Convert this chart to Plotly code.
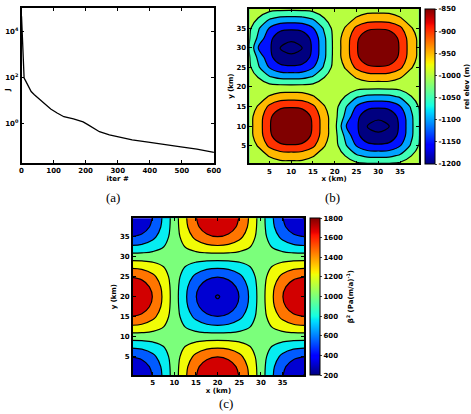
import numpy as np
import plotly.graph_objects as go

W, H = 471, 414

# ---------------- data ----------------
# (a) cost function vs iteration
iters = [0, 8, 12, 20, 30, 40, 56, 71, 91, 111, 132, 162, 192, 208, 223, 243,
         274, 304, 345, 395, 446, 497, 547, 600]
cost = [44000, 93, 74, 48, 24.5, 17.8, 11.5, 7.2, 4.3, 2.9, 2.0, 1.6, 1.2, 0.89,
        0.65, 0.45, 0.33, 0.26, 0.20, 0.16, 0.13, 0.10, 0.079, 0.058]
a_yticks = [1, 100, 10000]
a_yticktext = ["10<sup>0</sup>", "10<sup>2</sup>", "10<sup>4</sup>"]

# grid (km)
gx = [0, 2.5, 5, 7.5, 10, 12.5, 15, 17.5, 20, 22.5, 25, 27.5, 30, 32.5, 35, 37.5, 40]
gy = [0, 2.5, 5, 7.5, 10, 12.5, 15, 17.5, 20, 22.5, 25, 27.5, 30, 32.5, 35, 37.5, 40]

# (b) relative elevation (m), rows = y
elev = [
    [-1003, -1003, -1002, -1001, -1001, -1001, -1002, -1003, -1003, -1004, -1008, -1011, -1012, -1011, -1008, -1004, -1003],
    [-1003, -998, -978, -961, -959, -961, -978, -998, -1004, -1027, -1064, -1080, -1082, -1080, -1064, -1027, -1004],
    [-1002, -978, -928, -903, -898, -903, -928, -978, -1007, -1064, -1115, -1144, -1149, -1144, -1115, -1064, -1008],
    [-1001, -961, -903, -864, -858, -864, -903, -961, -1009, -1080, -1144, -1183, -1192, -1183, -1144, -1080, -1011],
    [-1001, -959, -898, -858, -850, -858, -898, -959, -1010, -1110, -1149, -1196, -1200, -1196, -1149, -1082, -1012],
    [-1001, -961, -903, -864, -858, -864, -903, -961, -1009, -1080, -1144, -1183, -1192, -1183, -1144, -1080, -1011],
    [-1002, -978, -928, -903, -898, -903, -928, -978, -1007, -1064, -1115, -1144, -1149, -1144, -1115, -1064, -1008],
    [-1003, -998, -978, -961, -959, -961, -978, -998, -1004, -1027, -1064, -1080, -1082, -1080, -1064, -1027, -1004],
    [-1003, -1004, -1007, -1009, -1010, -1009, -1007, -1004, -1003, -1004, -1007, -1009, -1010, -1009, -1007, -1004, -1003],
    [-1004, -1027, -1064, -1080, -1082, -1080, -1064, -1027, -1004, -998, -978, -961, -959, -961, -978, -998, -1003],
    [-1008, -1064, -1115, -1144, -1149, -1144, -1115, -1064, -1007, -978, -928, -903, -898, -903, -928, -978, -1002],
    [-1011, -1080, -1144, -1183, -1192, -1183, -1144, -1080, -1009, -961, -903, -864, -858, -864, -903, -961, -1001],
    [-1012, -1115, -1149, -1196, -1200, -1196, -1149, -1082, -1010, -959, -898, -858, -850, -858, -898, -959, -1001],
    [-1011, -1080, -1144, -1183, -1192, -1183, -1144, -1080, -1009, -961, -903, -864, -858, -864, -903, -961, -1001],
    [-1008, -1064, -1115, -1144, -1149, -1144, -1115, -1064, -1007, -978, -928, -903, -898, -903, -928, -978, -1002],
    [-1004, -1027, -1064, -1080, -1082, -1080, -1064, -1027, -1004, -998, -978, -961, -959, -961, -978, -998, -1003],
    [-1003, -1004, -1008, -1011, -1012, -1011, -1008, -1004, -1003, -1003, -1002, -1001, -1001, -1001, -1002, -1003, -1003],
]
elev_min, elev_max = -1200, -850
elev_ticks = [-850, -900, -950, -1000, -1050, -1100, -1150, -1200]

# (c) beta^2, rows = y
beta2 = [
    [200, 261, 434, 694, 1000, 1306, 1566, 1739, 1800, 1739, 1566, 1306, 1000, 694, 434, 261, 200],
    [261, 317, 477, 717, 1000, 1283, 1523, 1683, 1739, 1683, 1523, 1283, 1000, 717, 477, 317, 261],
    [434, 477, 600, 783, 1000, 1217, 1400, 1523, 1566, 1523, 1400, 1217, 1000, 783, 600, 477, 434],
    [694, 717, 783, 883, 1000, 1117, 1217, 1283, 1306, 1283, 1217, 1117, 1000, 883, 783, 717, 694],
    [1000, 1000, 1000, 1000, 1000, 1000, 1000, 1000, 1000, 1000, 1000, 1000, 1000, 1000, 1000, 1000, 1000],
    [1306, 1283, 1217, 1117, 1000, 883, 783, 717, 694, 717, 783, 883, 1000, 1117, 1217, 1283, 1306],
    [1566, 1523, 1400, 1217, 1000, 783, 600, 477, 434, 477, 600, 783, 1000, 1217, 1400, 1523, 1566],
    [1739, 1683, 1523, 1283, 1000, 717, 477, 317, 261, 317, 477, 717, 1000, 1283, 1523, 1683, 1739],
    [1800, 1739, 1566, 1306, 1000, 694, 434, 261, 200, 261, 434, 694, 1000, 1306, 1566, 1739, 1800],
    [1739, 1683, 1523, 1283, 1000, 717, 477, 317, 261, 317, 477, 717, 1000, 1283, 1523, 1683, 1739],
    [1566, 1523, 1400, 1217, 1000, 783, 600, 477, 434, 477, 600, 783, 1000, 1217, 1400, 1523, 1566],
    [1306, 1283, 1217, 1117, 1000, 883, 783, 717, 694, 717, 783, 883, 1000, 1117, 1217, 1283, 1306],
    [1000, 1000, 1000, 1000, 1000, 1000, 1000, 1000, 1000, 1000, 1000, 1000, 1000, 1000, 1000, 1000, 1000],
    [694, 717, 783, 883, 1000, 1117, 1217, 1283, 1306, 1283, 1217, 1117, 1000, 883, 783, 717, 694],
    [434, 477, 600, 783, 1000, 1217, 1400, 1523, 1566, 1523, 1400, 1217, 1000, 783, 600, 477, 434],
    [261, 317, 477, 717, 1000, 1283, 1523, 1683, 1739, 1683, 1523, 1283, 1000, 717, 477, 317, 261],
    [200, 261, 434, 694, 1000, 1306, 1566, 1739, 1800, 1739, 1566, 1306, 1000, 694, 434, 261, 200],
]
beta_min, beta_max = 200, 1800
beta_ticks = [200, 400, 600, 800, 1000, 1200, 1400, 1600, 1800]

# ---------------- style helpers ----------------
JET_R = [(0, 0), (0.35, 0), (0.66, 1), (0.89, 1), (1, 0.5)]
JET_G = [(0, 0), (0.125, 0), (0.375, 1), (0.64, 1), (0.91, 0), (1, 0)]
JET_B = [(0, 0.5), (0.11, 1), (0.34, 1), (0.65, 0), (1, 0)]


def jet_rgb(p):
    c = [np.interp(p, [a for a, _ in s], [b for _, b in s]) for s in (JET_R, JET_G, JET_B)]
    return "rgb(%d,%d,%d)" % tuple(int(round(v * 255)) for v in c)


def jet_scale():
    pts = sorted(set([p for s in (JET_R, JET_G, JET_B) for p, _ in s]))
    return [[p, jet_rgb(p)] for p in pts]


def band_scale(nbands):
    # plotly samples filled band k at k/(n-1); give it jet at the band centre (k+0.5)/n
    return [[k / (nbands - 1), jet_rgb((k + 0.5) / nbands)] for k in range(nbands)]


JET = jet_scale()
FONT = "DejaVu Sans"
tickf = dict(family=FONT, size=7, color="black", weight="bold")
titf = dict(family=FONT, size=7, color="black", weight="bold")
capf = dict(family="Liberation Serif", size=13, color="black")


def px_x(p):
    return p / W


def px_y(p):
    return 1 - p / H


axis_common = dict(showline=True, linecolor="black", linewidth=1.6, mirror="ticks",
                   ticks="inside", ticklen=3, tickcolor="black", tickwidth=1,
                   tickfont=tickf, showgrid=False, zeroline=False)

fig = go.Figure()

# (a)
fig.add_trace(go.Scatter(x=iters, y=cost, mode="lines",
                         line=dict(color="black", width=1.3),
                         xaxis="x", yaxis="y", showlegend=False))

# (b)
nb = 8
bstep = (elev_max - elev_min) / nb
fig.add_trace(go.Contour(x=gx, y=gy, z=elev, xaxis="x2", yaxis="y2",
                         colorscale=JET, showscale=False, autocontour=False,
                         contours=dict(start=elev_min + bstep, end=elev_max - bstep + 0.01,
                                       size=bstep, coloring="fill"),
                         line=dict(color="black", width=1.2, smoothing=1.0)))
fig.add_trace(go.Contour(x=gx, y=gy, z=elev, xaxis="x2", yaxis="y2",
                         showscale=False, autocontour=False,
                         contours=dict(start=-1195, end=-1195, size=1, coloring="none"),
                         line=dict(color="black", width=1.2, smoothing=1.0)))
fig.add_trace(go.Scatter(x=[None], y=[None], mode="markers", xaxis="x2", yaxis="y2",
                         showlegend=False,
                         marker=dict(color=[elev_min], cmin=elev_min, cmax=elev_max,
                                     colorscale=JET, showscale=True,
                                     colorbar=dict(x=px_x(433), xanchor="left",
                                                   y=px_y(86.5), yanchor="middle",
                                                   len=155 / H, lenmode="fraction",
                                                   thickness=10, thicknessmode="pixels",
                                                   xpad=0, ypad=0, outlinewidth=1,
                                                   outlinecolor="black",
                                                   tickvals=elev_ticks,
                                                   ticktext=[str(v) for v in elev_ticks],
                                                   ticks="outside", ticklen=2,
                                                   tickfont=tickf,
                                                   title=dict(text="rel elev (m)", side="right",
                                                              font=titf)))))

# (c)
nc = 7
cstep = (beta_max - beta_min) / nc
fig.add_trace(go.Contour(x=gx, y=gy, z=beta2, xaxis="x3", yaxis="y3",
                         colorscale=band_scale(nc), showscale=False, autocontour=False,
                         contours=dict(start=beta_min + cstep, end=beta_max - cstep + 0.01,
                                       size=cstep, coloring="fill"),
                         line=dict(color="black", width=1.2, smoothing=1.0)))
fig.add_trace(go.Contour(x=gx, y=gy, z=beta2, xaxis="x3", yaxis="y3",
                         showscale=False, autocontour=False,
                         contours=dict(start=212, end=212, size=1, coloring="none"),
                         line=dict(color="black", width=1.2, smoothing=1.0)))
fig.add_trace(go.Scatter(x=[None], y=[None], mode="markers", xaxis="x3", yaxis="y3",
                         showlegend=False,
                         marker=dict(color=[beta_min], cmin=beta_min, cmax=beta_max,
                                     colorscale=JET, showscale=True,
                                     colorbar=dict(x=px_x(315), xanchor="left",
                                                   y=px_y(296.6), yanchor="middle",
                                                   len=156.7 / H, lenmode="fraction",
                                                   thickness=9.5, thicknessmode="pixels",
                                                   xpad=0, ypad=0, outlinewidth=1,
                                                   outlinecolor="black",
                                                   tickvals=beta_ticks,
                                                   ticks="outside", ticklen=2,
                                                   tickfont=tickf,
                                                   title=dict(text="\u03b2<sup>2</sup> (Pa(m/a)<sup>-1</sup>)",
                                                              side="right", font=titf)))))

layout = dict(
    width=W, height=H, margin=dict(l=0, r=0, t=0, b=0),
    paper_bgcolor="white", plot_bgcolor="white", showlegend=False,
    xaxis=dict(domain=[px_x(20), px_x(217)], range=[0, 600], dtick=100, anchor="y",
               title=dict(text="iter #", font=titf, standoff=1), **axis_common),
    yaxis=dict(domain=[px_y(163), px_y(8)], type="log", range=[-1.7, 5.0], anchor="x",
               tickvals=a_yticks, ticktext=a_yticktext, **axis_common),
    xaxis2=dict(domain=[px_x(253.3), px_x(426.7)], range=[0.4, 39.3], tickvals=[5, 10, 15, 20, 25, 30, 35],
                anchor="y2", title=dict(text="x (km)", font=titf, standoff=1), **axis_common),
    yaxis2=dict(domain=[px_y(163.3), px_y(9)], range=[0.5, 39.9], tickvals=[5, 10, 15, 20, 25, 30, 35],
                anchor="x2", title=dict(text="y (km)", font=titf, standoff=2), **axis_common),
    xaxis3=dict(domain=[px_x(134), px_x(309.3)], range=[0.43, 39.97], tickvals=[5, 10, 15, 20, 25, 30, 35],
                anchor="y3", title=dict(text="x (km)", font=titf, standoff=1), **axis_common),
    yaxis3=dict(domain=[px_y(375), px_y(218.3)], range=[0.4, 39.67], tickvals=[5, 10, 15, 20, 25, 30, 35],
                anchor="x3", title=dict(text="y (km)", font=titf, standoff=2), **axis_common),
    annotations=[
        dict(text="(a)", x=px_x(104), y=px_y(197), xref="paper", yref="paper", showarrow=False,
             font=capf),
        dict(text="(b)", x=px_x(348), y=px_y(197), xref="paper", yref="paper", showarrow=False,
             font=capf),
        dict(text="(c)", x=px_x(229), y=px_y(413), xref="paper", yref="paper", showarrow=False,
             font=capf, yanchor="bottom"),
        dict(text="J", x=0, y=px_y(86), xref="paper", yref="paper", showarrow=False,
             xanchor="left", textangle=-90, font=titf),
    ],
)
fig.update_layout(**layout)
fig.write_html("out.html")
